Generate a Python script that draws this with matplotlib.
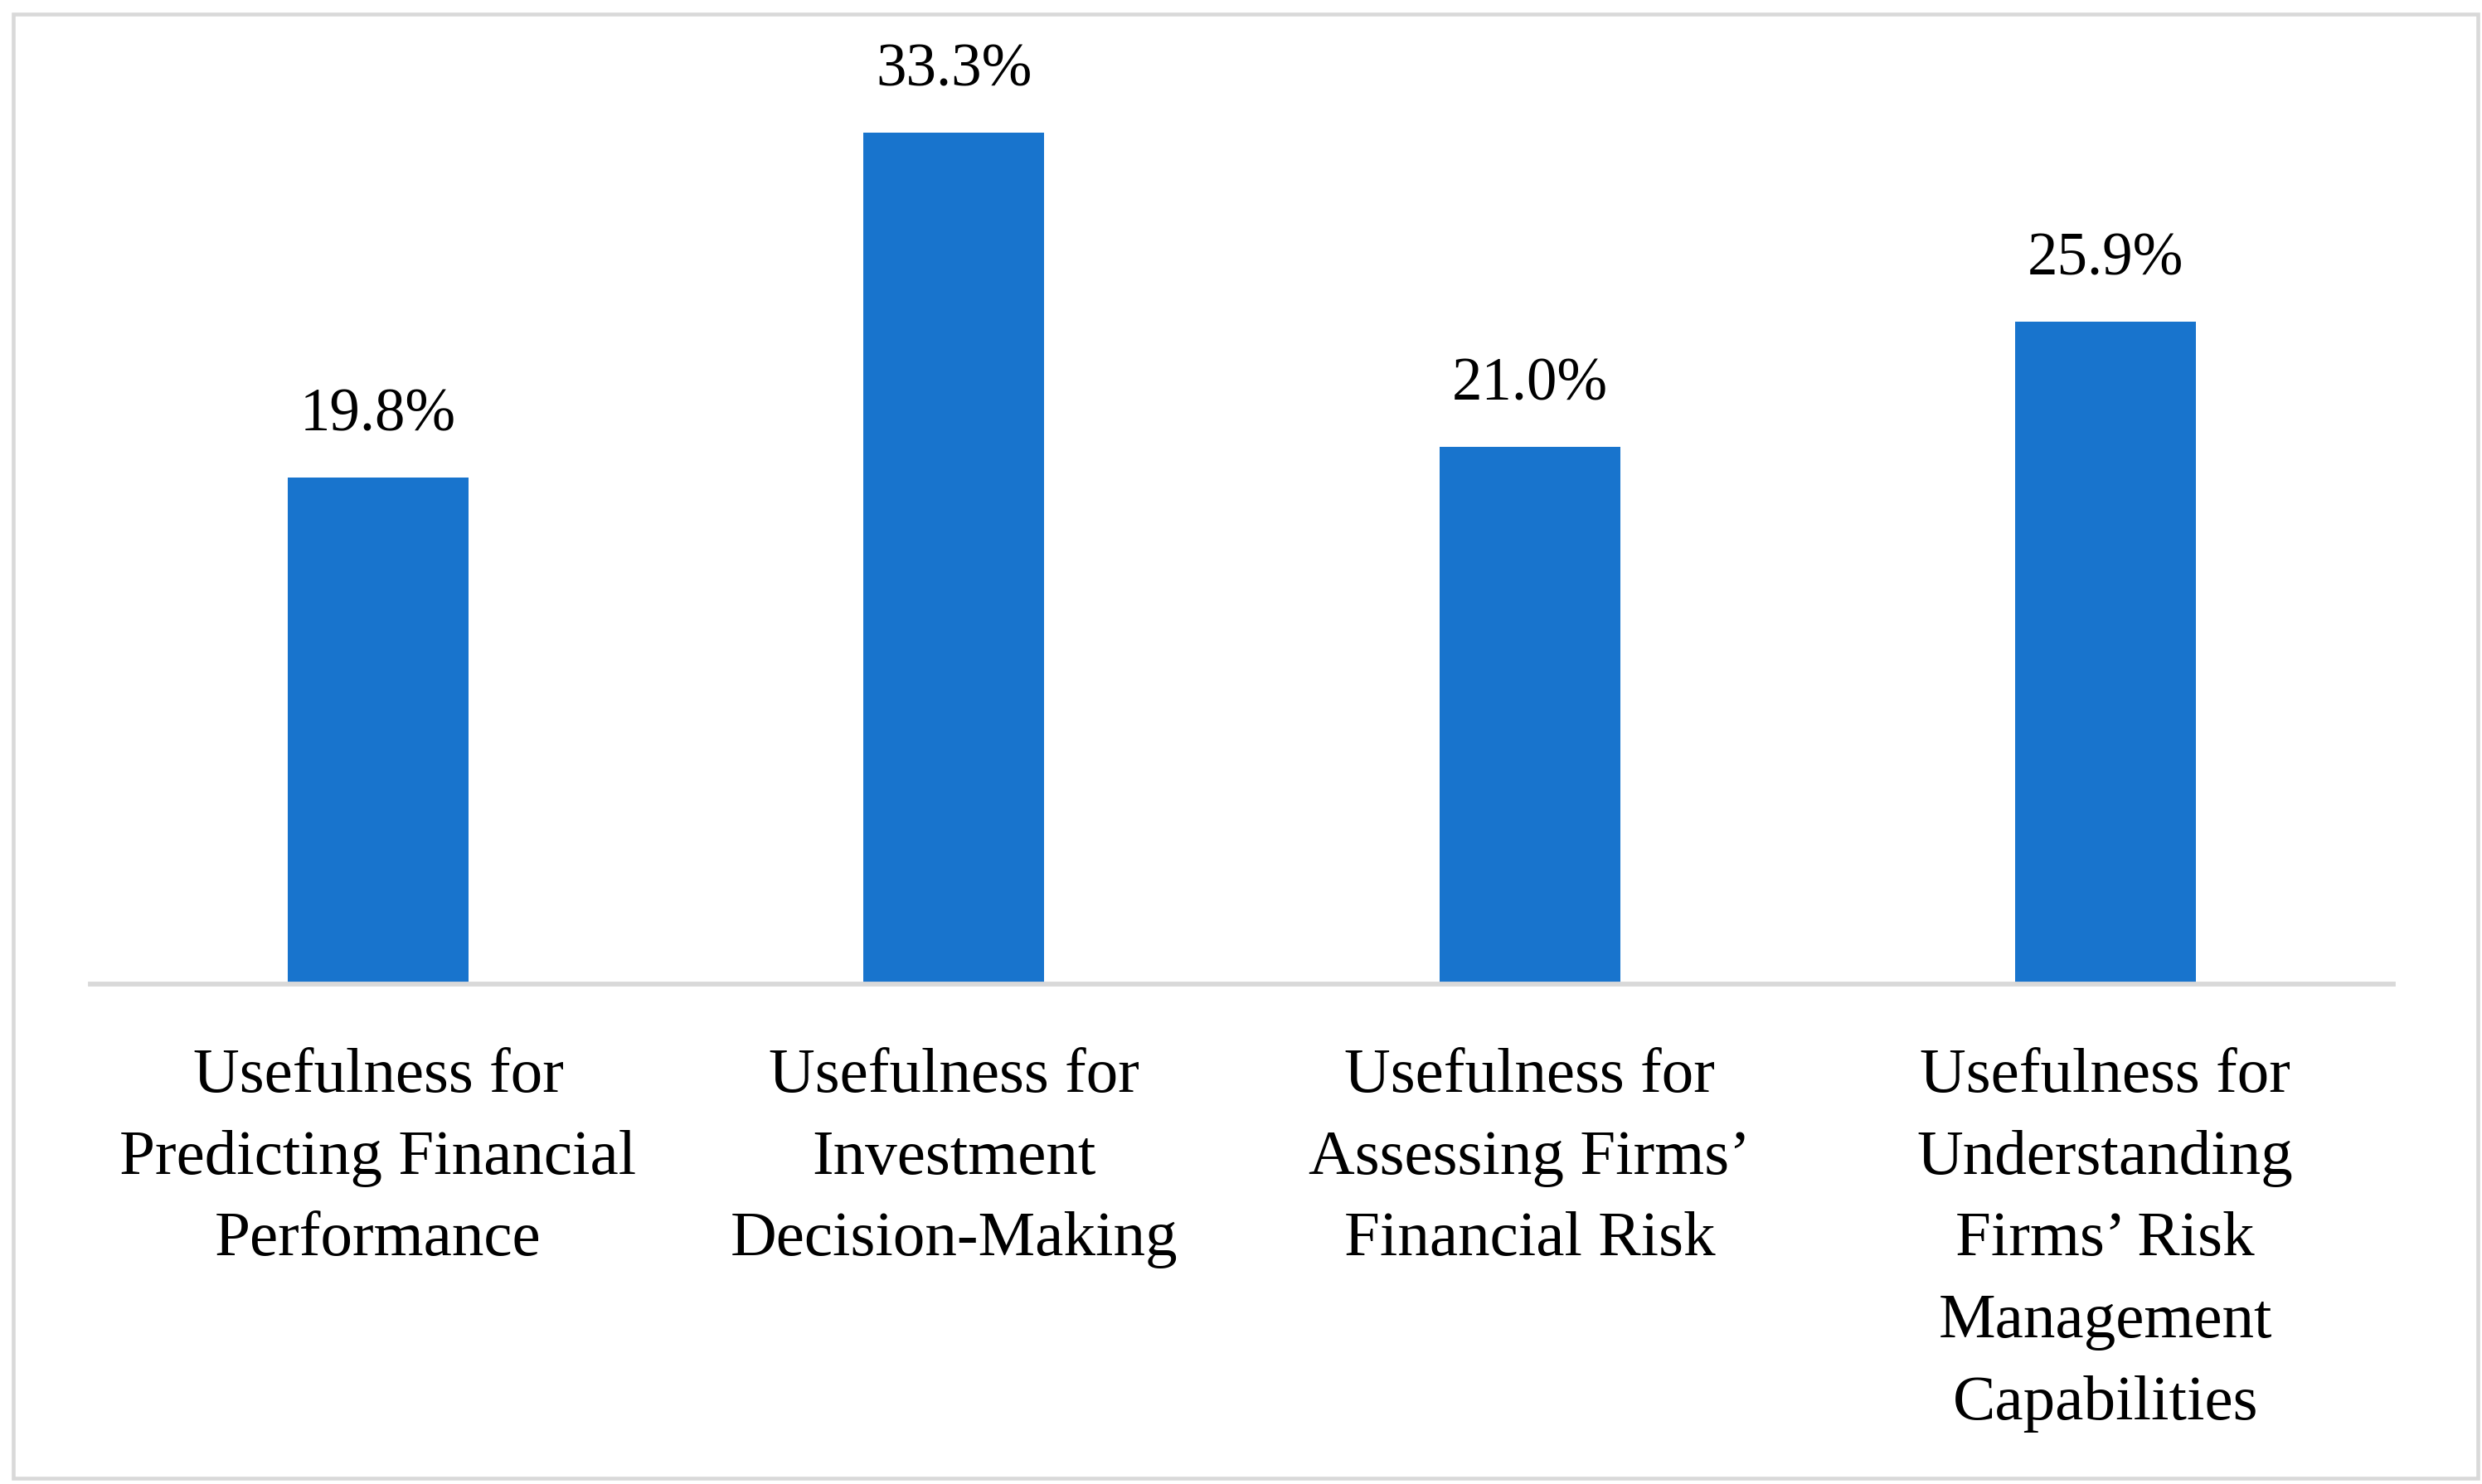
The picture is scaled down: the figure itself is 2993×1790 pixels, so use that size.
import matplotlib
matplotlib.use("Agg")
import matplotlib.pyplot as plt
from matplotlib.patches import Rectangle

categories = [
    "Usefulness for\nPredicting Financial\nPerformance",
    "Usefulness for\nInvestment\nDecision-Making",
    "Usefulness for\nAssessing Firms\u2019\nFinancial Risk",
    "Usefulness for\nUnderstanding\nFirms\u2019 Risk\nManagement\nCapabilities",
]
values = [19.8, 33.3, 21.0, 25.9]
value_labels = ["19.8%", "33.3%", "21.0%", "25.9%"]

plt.rcParams["font.family"] = ["Liberation Serif", "DejaVu Serif"]

fig = plt.figure(figsize=(2993 / 300, 1790 / 300), dpi=300)
ax = fig.add_axes([0.0364, 0.3369, 0.9278, 0.6205])

x = range(len(values))
ax.bar(x, values, width=0.314, color="#1874CD", zorder=2)
for xi, v, lab in zip(x, values, value_labels):
    ax.text(xi, v + 1.3, lab, ha="center", va="bottom", fontsize=17.5, color="black")

ax.set_xlim(-0.5, 3.5)
ax.set_ylim(0, 36)
ax.set_yticks([])
ax.set_xticks(list(x))
ax.set_xticklabels(categories, fontsize=18.5, linespacing=1.56, color="black")
ax.tick_params(axis="x", length=0, pad=18.5)
for side in ["top", "right", "left"]:
    ax.spines[side].set_visible(False)
ax.spines["bottom"].set_color("#d9d9d9")
ax.spines["bottom"].set_linewidth(1.4)
ax.spines["bottom"].set_zorder(3)

# outer frame
fig.patches.append(Rectangle((16 / 2993, 7 / 1790), 2972 / 2993, 1766 / 1790,
                             transform=fig.transFigure, fill=False,
                             edgecolor="#d9d9d9", linewidth=1.1))

fig.savefig("out.png", dpi=300, facecolor="white")
